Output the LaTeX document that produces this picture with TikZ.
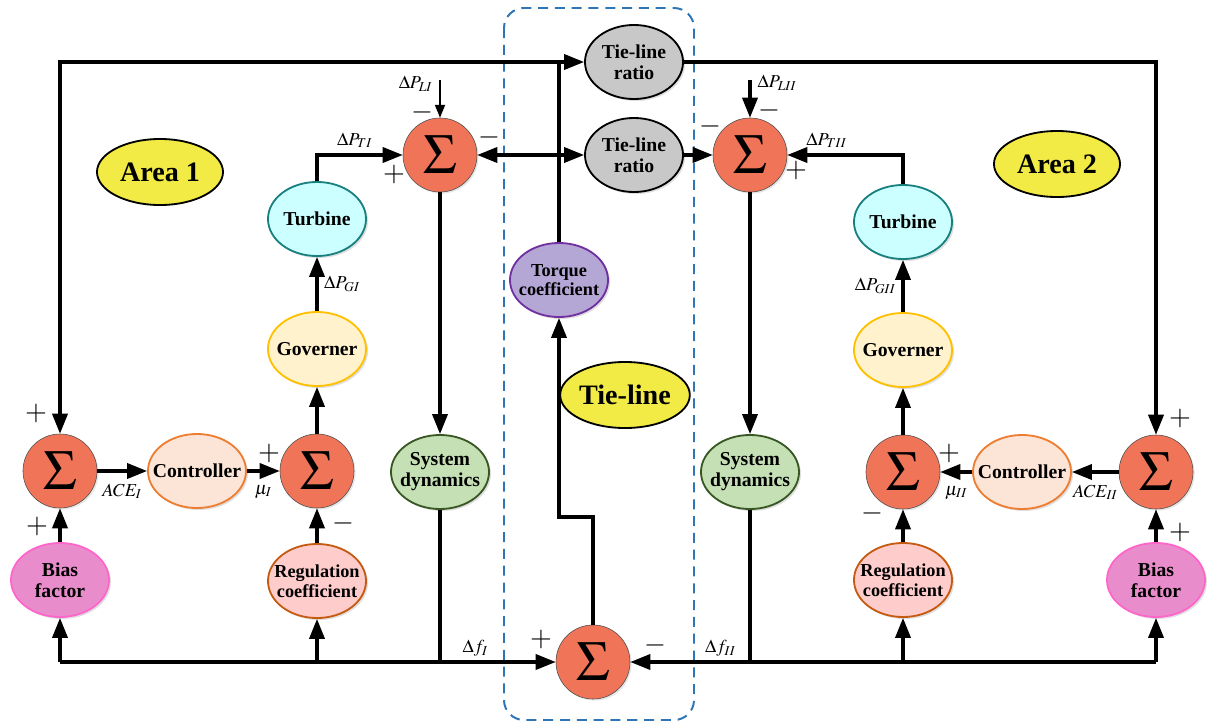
\documentclass[tikz,border=0pt]{standalone}
\usepackage{mathptmx}
\usepackage{fontspec}
\setmainfont{Liberation Serif}
\usetikzlibrary{arrows.meta,shapes.geometric,shadows,positioning}

\definecolor{sumred}{RGB}{240,117,88}
\definecolor{ratiogray}{RGB}{200,200,200}
\definecolor{turbfill}{RGB}{204,255,255}
\definecolor{turbdraw}{RGB}{25,128,128}
\definecolor{govfill}{RGB}{255,242,204}
\definecolor{govdraw}{RGB}{255,192,0}
\definecolor{ctrlfill}{RGB}{252,228,214}
\definecolor{ctrldraw}{RGB}{237,125,49}
\definecolor{regfill}{RGB}{255,204,204}
\definecolor{regdraw}{RGB}{197,90,17}
\definecolor{biasfill}{RGB}{233,140,203}
\definecolor{biasdraw}{RGB}{255,102,204}
\definecolor{dynfill}{RGB}{197,224,180}
\definecolor{dyndraw}{RGB}{56,87,35}
\definecolor{torqfill}{RGB}{180,167,214}
\definecolor{torqdraw}{RGB}{112,48,160}
\definecolor{tagfill}{RGB}{242,234,69}
\definecolor{boxblue}{RGB}{46,117,182}

\begin{document}
\begin{tikzpicture}[x=0.025cm, y=-0.025cm,
  sumnode/.style={circle, draw=gray!60!black, fill=sumred, minimum size=1.85cm, inner sep=0pt,
    font=\fontsize{40}{40}\selectfont, drop shadow={opacity=0.2, shadow xshift=0.04cm, shadow yshift=-0.04cm}},
  blk/.style={ellipse, line width=1.3pt, minimum width=2.45cm, minimum height=1.85cm,
    inner xsep=-0.25cm, inner ysep=0pt,
    align=center, font=\bfseries\fontsize{14}{15}\selectfont,
    drop shadow={opacity=0.25, shadow xshift=0.05cm, shadow yshift=-0.05cm}},
  small/.style={font=\bfseries\fontsize{13}{14}\selectfont},
  tag/.style={ellipse, draw, line width=1.3pt, fill=tagfill, minimum width=3.15cm, minimum height=1.65cm,
    inner sep=0pt, font=\bfseries\fontsize{20}{20}\selectfont},
  line/.style={line width=2.2pt},
  flow/.style={line width=2.2pt, -{Triangle[length=0.5cm,width=0.38cm]}},
  thinflow/.style={line width=1.2pt, -{Triangle[length=0.32cm,width=0.25cm]}},
  sign/.style={inner sep=0pt, font=\fontsize{20}{20}\selectfont},
  lab/.style={inner sep=1pt, font=\fontsize{13}{13}\selectfont}]
\useasboundingbox (0,0) rectangle (1210,723);

% tie-line box
\draw[boxblue, line width=1.4pt, dash pattern=on 0.25cm off 0.17cm, rounded corners=0.5cm] (504,8) rectangle (694,720);

% Area 1
\node[tag] (area1) at (160,172) {Area 1};
\node[sumnode] (sa1) at (60,471) {$\Sigma$};
\node[blk, draw=ctrldraw, fill=ctrlfill] (ctrl1) at (197,471) {Controller};
\node[sumnode] (sm1) at (317,471) {$\Sigma$};
\node[blk, draw=biasdraw, fill=biasfill] (bias1) at (60,580) {Bias\\factor};
\node[blk, small, draw=regdraw, fill=regfill] (reg1) at (317,581) {Regulation\\coefficient};
\node[blk, draw=govdraw, fill=govfill] (gov1) at (317,349) {Governer};
\node[blk, draw=turbdraw, fill=turbfill] (turb1) at (317,219) {Turbine};
\node[sumnode] (sp1) at (440,155) {$\Sigma$};
\node[blk, draw=dyndraw, fill=dynfill] (dyn1) at (440,472) {System\\dynamics};

% tie-line
\node[blk, draw, fill=ratiogray] (rat1) at (634,62) {Tie-line\\ratio};
\node[blk, draw, fill=ratiogray] (rat2) at (634,155) {Tie-line\\ratio};
\node[blk, small, draw=torqdraw, fill=torqfill] (torq) at (559,280) {Torque\\coefficient};
\node[tag] (tie) at (625,395) {Tie-line};
\node[sumnode] (sc) at (593,662) {$\Sigma$};

% Area 2
\node[tag] (area2) at (1057,164) {Area 2};
\node[sumnode] (sa2) at (1156,472) {$\Sigma$};
\node[blk, draw=ctrldraw, fill=ctrlfill] (ctrl2) at (1022,472) {Controller};
\node[sumnode] (sm2) at (903,472) {$\Sigma$};
\node[blk, draw=biasdraw, fill=biasfill] (bias2) at (1156,580) {Bias\\factor};
\node[blk, small, draw=regdraw, fill=regfill] (reg2) at (903,580) {Regulation\\coefficient};
\node[blk, draw=govdraw, fill=govfill] (gov2) at (903,350) {Governer};
\node[blk, draw=turbdraw, fill=turbfill] (turb2) at (903,222) {Turbine};
\node[sumnode] (sp2) at (750,155) {$\Sigma$};
\node[blk, draw=dyndraw, fill=dynfill] (dyn2) at (750,472) {System\\dynamics};

% junctions
\coordinate (jt) at (559,62);
\coordinate (jm) at (559,155);
\coordinate (kink) at (593,517);
\coordinate (bl) at (60,662);
\coordinate (br) at (1156,662);
\coordinate (pl1) at (440,80);
\coordinate (pl2) at (750,80);

% tie-line connectors
\draw[line] (torq.north) -- (jt);
\draw[flow] (jt) -| (sa1.north);
\draw[flow] (jt) -- (rat1.west);
\draw[flow] (rat1.east) -| (sa2.north);
\draw[flow] (jm) -- (sp1.east);
\draw[flow] (jm) -- (rat2.west);
\draw[flow] (rat2.east) -- (sp2.west);
\draw[flow] (sc.north) -- (kink) -| (torq.south);

% area 1 connectors
\draw[flow] (sa1) -- (ctrl1) node[lab, midway, below=7pt] {$ACE_{I}$};
\draw[flow] (ctrl1) -- (sm1) node[lab, midway, below=8pt] {$\mu_{I}$};
\draw[flow] (bias1) -- (sa1);
\draw[flow] (reg1) -- (sm1);
\draw[flow] (sm1) -- (gov1);
\draw[flow] (gov1) -- (turb1) node[lab, midway, right=3pt] {$\Delta P_{GI}$};
\draw[flow] (turb1.north) |- (sp1.west) node[lab, pos=0.72, above=3pt] {$\Delta P_{TI}$};
\draw[flow] (sp1) -- (dyn1);
\draw[thinflow] (pl1) -- (sp1.north);
\node[lab, anchor=east] at (434,84) {$\Delta P_{LI}$};
\draw[line] (dyn1.south) -- (dyn1.south |- bl) node[lab, above right=2pt and 14pt] {$\Delta f_{I}$};
\draw[flow] (bl) -- (sc.west);
\draw[flow] (bl) -- (bias1.south);
\draw[flow] (reg1.south |- bl) -- (reg1.south);

% area 2 connectors
\draw[flow] (sa2) -- (ctrl2) node[lab, midway, below=7pt] {$ACE_{II}$};
\draw[flow] (ctrl2) -- (sm2) node[lab, midway, below=8pt] {$\mu_{II}$};
\draw[flow] (bias2) -- (sa2);
\draw[flow] (reg2) -- (sm2);
\draw[flow] (sm2) -- (gov2);
\draw[flow] (gov2) -- (turb2) node[lab, midway, left=3pt] {$\Delta P_{GII}$};
\draw[flow] (turb2.north) |- (sp2.east) node[lab, pos=0.83, above=3pt] {$\Delta P_{TII}$};
\draw[flow] (sp2) -- (dyn2);
\draw[flow] (pl2) -- (sp2.north);
\node[lab, anchor=west] at (756,83) {$\Delta P_{LII}$};
\draw[line] (dyn2.south) -- (dyn2.south |- br) node[lab, above left=2pt and 8pt] {$\Delta f_{II}$};
\draw[flow] (br) -- (sc.east);
\draw[flow] (br) -- (bias2.south);
\draw[flow] (reg2.south |- br) -- (reg2.south);

% signs
\node[sign] at (36,413) {$+$};
\node[sign] at (37,526) {$+$};
\node[sign] at (269,453) {$+$};
\node[sign] at (343,523) {$-$};
\node[sign] at (394,174) {$+$};
\node[sign] at (489,137) {$-$};
\node[sign] at (422,112) {$-$};
\node[sign] at (710,126) {$-$};
\node[sign] at (769,110) {$-$};
\node[sign] at (796,170) {$+$};
\node[sign] at (949,453) {$+$};
\node[sign] at (872,513) {$-$};
\node[sign] at (1180,418) {$+$};
\node[sign] at (1180,532) {$+$};
\node[sign] at (541,639) {$+$};
\node[sign] at (655,645) {$-$};
\end{tikzpicture}
\end{document}
